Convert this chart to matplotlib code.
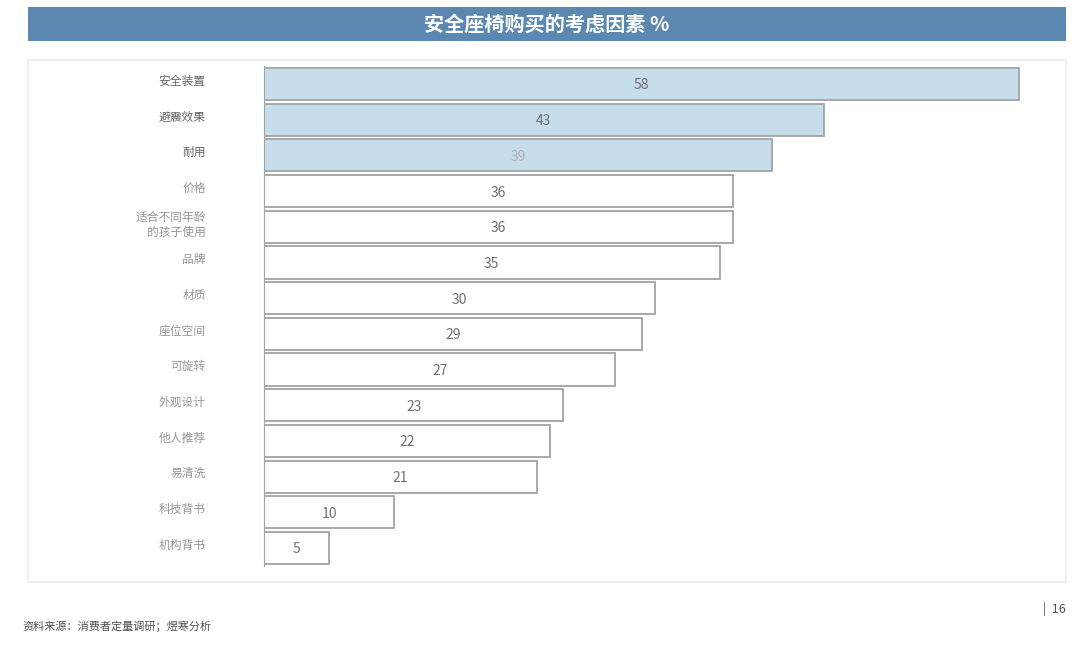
import matplotlib.pyplot as plt
from matplotlib.patches import Rectangle
import numpy as np

plt.rcParams['font.family'] = ['Noto Sans CJK SC', 'DejaVu Sans']

categories = ["安全装置", "避震效果", "耐用", "价格", "适合不同年龄\n的孩子使用", "品牌", "材质",
              "座位空间", "可旋转", "外观设计", "他人推荐", "易清洗", "科技背书", "机构背书"]
values = [58, 43, 39, 36, 36, 35, 30, 29, 27, 23, 22, 21, 10, 5]
highlight = [True, True, True] + [False] * 11

W, H = 1080, 648
fig = plt.figure(figsize=(W / 100, H / 100), dpi=100)

def fx(px):
    return px / W

def fy(py):
    return 1 - py / H

# title bar
fig.patches.append(Rectangle((fx(28), fy(41)), fx(1066) - fx(28), fy(7) - fy(41),
                             transform=fig.transFigure, facecolor="#5b87b1", edgecolor="none",
                             zorder=-1))
fig.text(fx(547), fy(24), "安全座椅购买的考虑因素 %", color="white", fontsize=14.5,
         fontweight="bold", ha="center", va="center")

# panel
fig.patches.append(Rectangle((fx(28), fy(582)), fx(1066) - fx(28), fy(60) - fy(582),
                             transform=fig.transFigure, facecolor="white", edgecolor="#ececec",
                             lw=1.2, zorder=-1))

row_top, row_bot = 84, 548
step = (row_bot - row_top) / (len(values) - 1)
ax_top = row_top - step / 2
ax_bot = row_bot + step / 2
ax = fig.add_axes([fx(264), fy(ax_bot), fx(1040) - fx(264), fy(ax_top) - fy(ax_bot)])
ax.set_zorder(2)
ax.set_xlim(0, (1040 - 264) / ((1019 - 264) / 58))
ax.set_ylim(len(values) - 0.5, -0.5)

y = np.arange(len(values))
colors = ["#c6ddec" if h else "white" for h in highlight]
ax.barh(y, values, height=0.9, color=colors, edgecolor="#a3a3a3", linewidth=1.3)

for i, v in enumerate(values):
    c = "#b0b0b0" if i == 2 else "#707070"
    ax.text(v / 2, i + 0.04, str(v), ha="center", va="center", fontsize=10, color=c)

ax.set_yticks(y - 0.12)
ax.set_yticklabels(categories, fontsize=8.5, linespacing=1.2)
for i, lab in enumerate(ax.get_yticklabels()):
    lab.set_color("#666666" if highlight[i] else "#969696")
    lab.set_ha("right")
ax.tick_params(axis="y", length=0, pad=42)
ax.set_xticks([])
for s in ["top", "right", "bottom"]:
    ax.spines[s].set_visible(False)
ax.spines["left"].set_color("#a3a3a3")
ax.patch.set_alpha(0)

fig.text(fx(22), fy(626), "资料来源：消费者定量调研；煜寒分析", fontsize=8, color="#505050",
         ha="left", va="center")
fig.text(fx(1066), fy(609), "|  16", fontsize=9, color="#505050", ha="right", va="center")

fig.savefig("out.png", dpi=100)
